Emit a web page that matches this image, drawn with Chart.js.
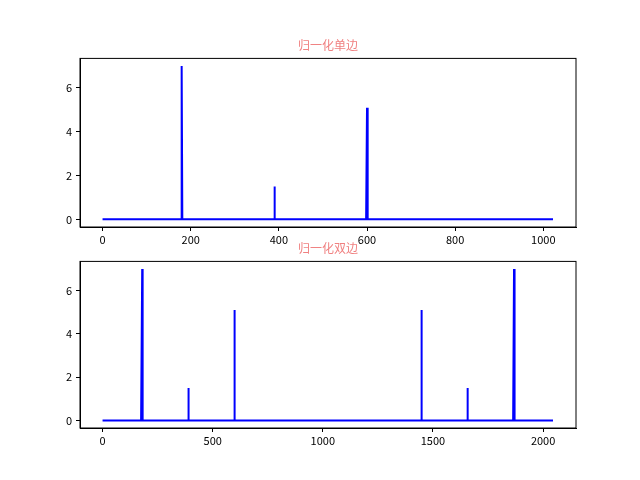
<!DOCTYPE html>
<html><head><meta charset="utf-8">
<script src="https://cdn.jsdelivr.net/npm/chart.js@4"></script>
<style>
body{margin:0;width:640px;height:480px;background:#fff;position:relative;overflow:hidden}
.box{position:absolute;left:0;width:640px}
</style></head>
<body>
<div class="box" style="top:0;height:250px"><canvas id="c1"></canvas></div>
<div class="box" style="top:220px;height:260px"><canvas id="c2"></canvas></div>
<script>
// spectrum peaks (index, amplitude)
let singleLen = 1024
let singlePeakIdx = [180, 390, 600]
let singlePeakAmp = [7.0, 1.5, 5.1]
let doubleLen = 2048
let doublePeakIdx = [180, 390, 600, 1448, 1658, 1868]
let doublePeakAmp = [7.0, 1.5, 5.1, 5.1, 1.5, 7.0]
let topTicks = [0, 200, 400, 600, 800, 1000]
let bottomTicks = [0, 500, 1000, 1500, 2000]
let yTicks = [0, 2, 4, 6]

function buildSeries(len, idx, amp){
    let pts = []
    for(let i = 0; i < len; i++){
        let k = idx.indexOf(i)
        pts.push({x: i, y: k >= 0 ? amp[k] : 0})
    }
    return pts
}

Chart.defaults.font.family = "'Noto Sans CJK SC', 'DejaVu Sans', sans-serif"
Chart.defaults.color = '#000'
Chart.defaults.animation = false

// axes box + title centred over the plot area (like matplotlib)
const frame = {
    id: 'frame',
    afterDraw(c){
        let a = c.chartArea, ctx = c.ctx
        ctx.save(); ctx.strokeStyle = '#000'; ctx.lineWidth = 1
        ctx.strokeRect(a.left, a.top, a.right - a.left, a.bottom - a.top)
        ctx.fillStyle = '#f08080'
        ctx.font = "12px 'Noto Sans CJK SC'"
        ctx.textAlign = 'center'; ctx.textBaseline = 'bottom'
        ctx.fillText(c.options.plugins.title.text, (a.left + a.right) / 2, a.top - 7)
        ctx.restore()
    }
}

function makeChart(id, title, data, ticks, xmax, pad){
    let margin = xmax * 0.05
    return new Chart(document.getElementById(id), {
        type: 'scatter',
        data: {datasets: [{data: data, showLine: true, borderColor: 'blue', borderWidth: 2, pointRadius: 0}]},
        options: {
            responsive: true, maintainAspectRatio: false,
            layout: {padding: pad},
            plugins: {
                legend: {display: false}, tooltip: {enabled: false},
                title: {display: true, text: title, color: 'rgba(0,0,0,0)', font: {size: 12, weight: 'normal'}, padding: {top: 6, bottom: 8}}
            },
            scales: {
                x: {
                    type: 'linear', min: -margin, max: xmax + margin,
                    afterBuildTicks: s => { s.ticks = ticks.map(v => ({value: v})) },
                    afterFit: s => { s.height = 22 },
                    grid: {drawOnChartArea: false, tickLength: 4, color: '#000'},
                    border: {color: '#000'},
                    ticks: {font: {size: 11}, padding: 2, maxRotation: 0, callback: v => String(v)}
                },
                y: {
                    min: -0.35, max: 7.35,
                    afterBuildTicks: s => { s.ticks = yTicks.map(v => ({value: v})) },
                    afterFit: s => { s.width = 30 },
                    grid: {drawOnChartArea: false, tickLength: 4, color: '#000'},
                    border: {color: '#000'},
                    ticks: {font: {size: 11}, padding: 4, callback: v => String(v)}
                }
            }
        },
        plugins: [frame]
    })
}

makeChart('c1', '归一化单边', buildSeries(singleLen, singlePeakIdx, singlePeakAmp), topTicks, singleLen - 1,
    {left: 50, right: 64, top: 30, bottom: 1})
makeChart('c2', '归一化双边', buildSeries(doubleLen, doublePeakIdx, doublePeakAmp), bottomTicks, doubleLen - 1,
    {left: 50, right: 64, top: 13, bottom: 30})
</script>
</body></html>
